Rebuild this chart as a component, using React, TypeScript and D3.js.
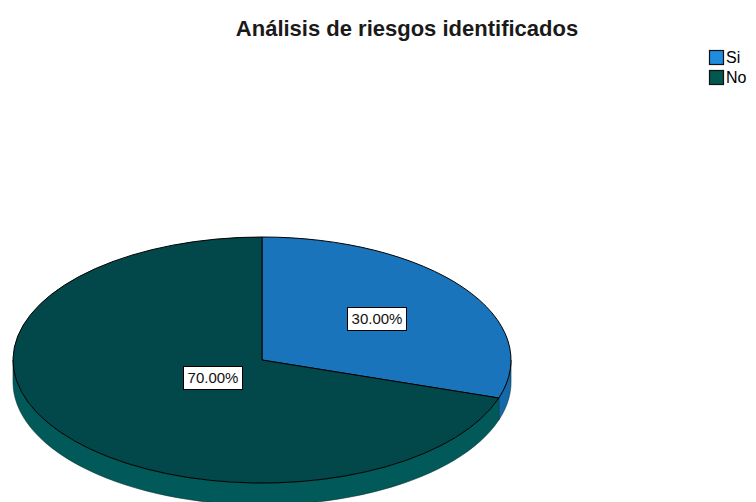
import { useEffect, useRef } from "react";
import * as d3 from "d3";

const categories = ["Si", "No"];
const values = [30, 70];
const labels = ["30.00%", "70.00%"];
const colors = ["#1a74bc", "#02484a"];
const sideColors = ["#1469aa", "#02595a"];
const legendColors = ["#1f8ce0", "#02574f"];

const width = 756;
const height = 502;

const App = () => {
  const ref = useRef<SVGSVGElement>(null);

  useEffect(() => {
    const svg = d3.select(ref.current);
    svg.selectAll("*").remove();

    const cx = 262;
    const cy = 360;
    const rx = 249;
    const ry = 123;
    const depth = 22;

    const pt = (a: number, dy = 0): [number, number] => [
      cx + rx * Math.sin(a),
      cy - ry * Math.cos(a) + dy,
    ];

    const arcs = d3
      .pie<number>()
      .sort(null)
      .value((d) => d)(values);

    // front wall (visible between 90 and 270 degrees)
    const sides = svg.append("g");
    arcs.forEach((d, i) => {
      const a0 = Math.max(d.startAngle, Math.PI / 2);
      const a1 = Math.min(d.endAngle, (3 * Math.PI) / 2);
      if (a1 <= a0) return;
      const steps = d3.range(0, 61).map((k) => a0 + ((a1 - a0) * k) / 60);
      const top = steps.map((a) => pt(a));
      const bottom = steps.slice().reverse().map((a) => pt(a, depth));
      sides
        .append("path")
        .attr("d", d3.line()(top.concat(bottom)) + "Z")
        .attr("fill", sideColors[i])
        .attr("stroke", "#00302e")
        .attr("stroke-width", 0.6);
    });

    // top face
    const arc = d3.arc<d3.PieArcDatum<number>>().innerRadius(0).outerRadius(rx);
    svg
      .append("g")
      .attr("transform", `translate(${cx},${cy}) scale(1,${ry / rx})`)
      .selectAll("path")
      .data(arcs)
      .join("path")
      .attr("d", arc)
      .attr("fill", (d, i) => colors[i])
      .attr("stroke", "#000")
      .attr("stroke-width", 1)
      .attr("vector-effect", "non-scaling-stroke");

    // labels at sector centroids
    const lab = svg
      .append("g")
      .attr("font-family", "Liberation Sans, Arial, sans-serif")
      .attr("font-size", 15);
    arcs.forEach((d, i) => {
      const half = (d.endAngle - d.startAngle) / 2;
      const f = (2 * Math.sin(half)) / (3 * half);
      const mid = (d.startAngle + d.endAngle) / 2;
      const x = cx + rx * f * Math.sin(mid);
      const y = cy - ry * f * Math.cos(mid);
      const g = lab.append("g").attr("transform", `translate(${Math.round(x)},${Math.round(y)})`);
      g.append("rect")
        .attr("x", -29.5)
        .attr("y", -11.5)
        .attr("width", 59)
        .attr("height", 23)
        .attr("fill", "#fff")
        .attr("stroke", "#000")
        .attr("stroke-width", 1);
      g.append("text")
        .attr("text-anchor", "middle")
        .attr("dy", "0.36em")
        .attr("fill", "#111")
        .text(labels[i]);
    });

    // title
    svg
      .append("text")
      .attr("x", 407)
      .attr("y", 36)
      .attr("text-anchor", "middle")
      .attr("font-family", "Liberation Sans, Arial, sans-serif")
      .attr("font-weight", "bold")
      .attr("font-size", 22)
      .attr("fill", "#1a1a1a")
      .text("Análisis de riesgos identificados");

    // legend
    const legend = svg
      .append("g")
      .attr("font-family", "Liberation Sans, Arial, sans-serif")
      .attr("font-size", 16);
    categories.forEach((c, i) => {
      const y = 50 + i * 20;
      legend
        .append("rect")
        .attr("x", 709.5)
        .attr("y", y + 0.5)
        .attr("width", 14)
        .attr("height", 14)
        .attr("fill", legendColors[i])
        .attr("stroke", "#111")
        .attr("stroke-width", 1.2);
      legend
        .append("text")
        .attr("x", 726)
        .attr("y", y + 13)
        .attr("fill", "#000")
        .text(c);
    });
  }, []);

  return (
    <svg
      ref={ref}
      width={width}
      height={height}
      style={{ position: "absolute", left: 0, top: 0, background: "#fff" }}
    />
  );
};

export default App;
